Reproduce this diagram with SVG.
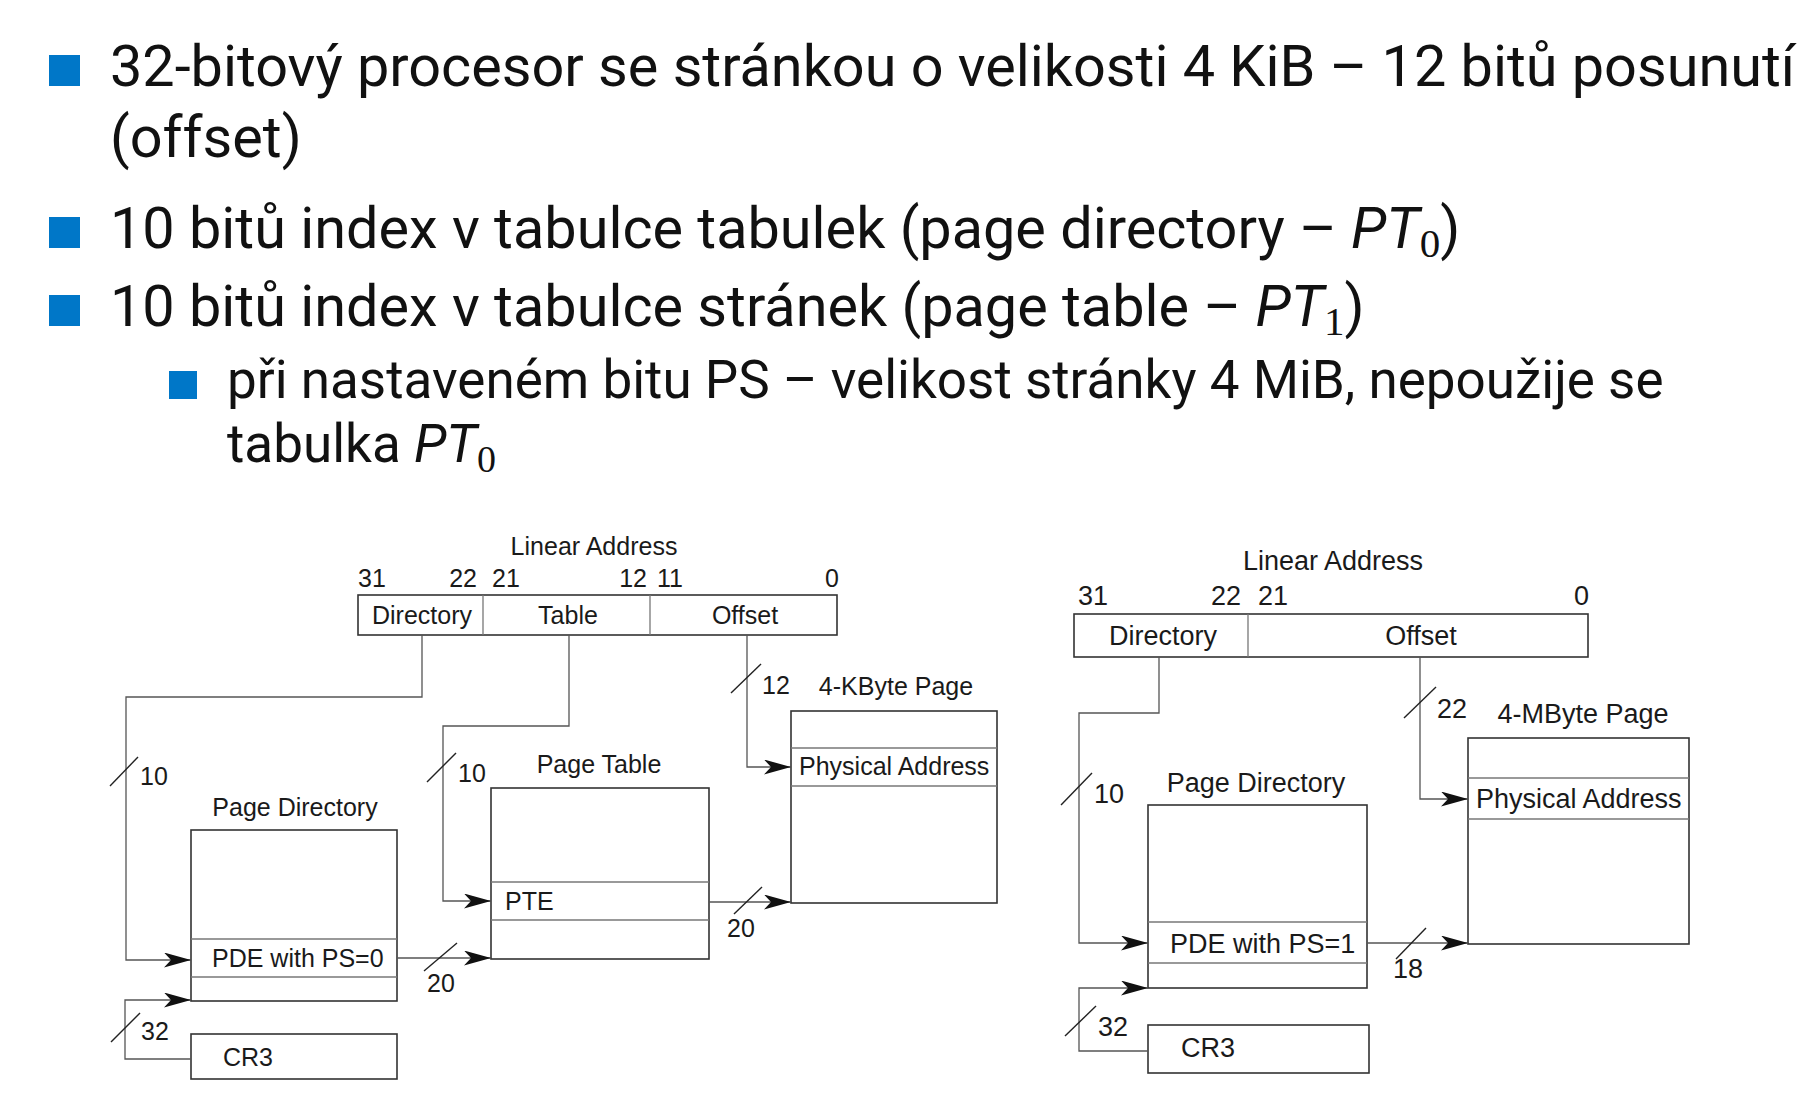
<svg xmlns="http://www.w3.org/2000/svg" width="1818" height="1104" viewBox="0 0 1818 1104">
  <style>
    .txt { font-family: Roboto, "Noto Sans", "Liberation Sans", sans-serif; fill: #111; }
    .big { font-size: 57.6px; }
    .sub { font-size: 53px; }
    .it { font-style: italic; }
    .idx { font-family: "Liberation Serif", "DejaVu Serif", serif; font-style: normal; }
    .bullet { fill: #0077c8; }
    .lbl { font-family: "Liberation Sans", Arial, sans-serif; fill: #1a1a1a; }
    .l25 { font-size: 25px; }
    .l27 { font-size: 27px; }
    .mid { text-anchor: middle; }
    .end { text-anchor: end; }
    .box { fill: none; stroke: #333; stroke-width: 1.6; }
    .row { fill: none; stroke: #777; stroke-width: 1.3; }
    .wire { fill: none; stroke: #555; stroke-width: 1.3; }
    .slash { stroke: #222; stroke-width: 1.4; }
  </style>
  <defs>
    <marker id="arrow" markerUnits="userSpaceOnUse" viewBox="0 0 27 15" refX="27" refY="7.5" markerWidth="27" markerHeight="15" orient="auto">
      <path d="M0,0 L27,7.5 L0,15 L7,7.5 Z" fill="#111"/>
    </marker>
  </defs>
  <rect width="1818" height="1104" fill="#fff"/>

  <!-- bullet list -->
  <g id="bullets">
    <rect class="bullet" x="49" y="55" width="31" height="31"/>
    <text class="txt big" x="110" y="86" textLength="1685" lengthAdjust="spacingAndGlyphs">32-bitový procesor se stránkou o velikosti 4 KiB – 12 bitů posunutí</text>
    <text class="txt big" x="110" y="157">(offset)</text>

    <rect class="bullet" x="49" y="217" width="31" height="31"/>
    <text class="txt big" x="110" y="248">10 bitů index v tabulce tabulek (page directory – <tspan class="it">PT</tspan><tspan class="idx" font-size="41" dy="9">0</tspan><tspan dy="-9">)</tspan></text>

    <rect class="bullet" x="49" y="295" width="31" height="31"/>
    <text class="txt big" x="110" y="326">10 bitů index v tabulce stránek (page table – <tspan class="it">PT</tspan><tspan class="idx" font-size="41" dy="9">1</tspan><tspan dy="-9">)</tspan></text>

    <rect class="bullet" x="169" y="371" width="28" height="28"/>
    <text class="txt sub" x="227" y="398">při nastaveném bitu PS – velikost stránky 4 MiB, nepoužije se</text>
    <text class="txt sub" x="227" y="462">tabulka <tspan class="it">PT</tspan><tspan class="idx" font-size="38" dy="10">0</tspan></text>
  </g>

  <!-- 4 KiB paging -->
  <g id="left-linear-address">
    <text class="lbl l25 mid" x="594" y="555">Linear Address</text>
    <text class="lbl l25" x="358" y="587">31</text>
    <text class="lbl l25 end" x="477" y="587">22</text>
    <text class="lbl l25" x="492" y="587">21</text>
    <text class="lbl l25 end" x="647" y="587">12</text>
    <text class="lbl l25" x="657" y="587">11</text>
    <text class="lbl l25 end" x="839" y="587">0</text>
    <rect class="box" x="358" y="595" width="479" height="40"/>
    <line class="row" x1="483" y1="595" x2="483" y2="635"/>
    <line class="row" x1="650" y1="595" x2="650" y2="635"/>
    <text class="lbl l25 mid" x="422" y="624">Directory</text>
    <text class="lbl l25 mid" x="568" y="624">Table</text>
    <text class="lbl l25 mid" x="745" y="624">Offset</text>
  </g>
  <g id="left-page-directory">
    <text class="lbl l25 mid" x="295" y="816">Page Directory</text>
    <rect class="box" x="191" y="830" width="206" height="171"/>
    <line class="row" x1="191" y1="939" x2="397" y2="939"/>
    <line class="row" x1="191" y1="977" x2="397" y2="977"/>
    <text class="lbl l25" x="212" y="967">PDE with PS=0</text>
  </g>
  <g id="left-cr3">
    <rect class="box" x="191" y="1034" width="206" height="45"/>
    <text class="lbl l25" x="223" y="1066">CR3</text>
  </g>
  <g id="left-page-table">
    <text class="lbl l25 mid" x="599" y="773">Page Table</text>
    <rect class="box" x="491" y="788" width="218" height="171"/>
    <line class="row" x1="491" y1="882" x2="709" y2="882"/>
    <line class="row" x1="491" y1="920" x2="709" y2="920"/>
    <text class="lbl l25" x="505" y="910">PTE</text>
  </g>
  <g id="left-4k-page">
    <text class="lbl l25 mid" x="896" y="695">4-KByte Page</text>
    <rect class="box" x="791" y="711" width="206" height="192"/>
    <line class="row" x1="791" y1="748" x2="997" y2="748"/>
    <line class="row" x1="791" y1="786" x2="997" y2="786"/>
    <text class="lbl l25" x="799" y="775">Physical Address</text>
  </g>

  <!-- 4 MiB paging -->
  <g id="right-linear-address">
    <text class="lbl l27 mid" x="1333" y="570">Linear Address</text>
    <text class="lbl l27" x="1078" y="605">31</text>
    <text class="lbl l27 end" x="1241" y="605">22</text>
    <text class="lbl l27" x="1258" y="605">21</text>
    <text class="lbl l27 end" x="1589" y="605">0</text>
    <rect class="box" x="1074" y="614" width="514" height="43"/>
    <line class="row" x1="1248" y1="614" x2="1248" y2="657"/>
    <text class="lbl l27 mid" x="1163" y="645">Directory</text>
    <text class="lbl l27 mid" x="1421" y="645">Offset</text>
  </g>
  <g id="right-page-directory">
    <text class="lbl l27 mid" x="1256" y="792">Page Directory</text>
    <rect class="box" x="1148" y="805" width="219" height="183"/>
    <line class="row" x1="1148" y1="922" x2="1367" y2="922"/>
    <line class="row" x1="1148" y1="963" x2="1367" y2="963"/>
    <text class="lbl l27" x="1170" y="953">PDE with PS=1</text>
  </g>
  <g id="right-cr3">
    <rect class="box" x="1148" y="1025" width="221" height="48"/>
    <text class="lbl l27" x="1181" y="1057">CR3</text>
  </g>
  <g id="right-4m-page">
    <text class="lbl l27 mid" x="1583" y="723">4-MByte Page</text>
    <rect class="box" x="1468" y="738" width="221" height="206"/>
    <line class="row" x1="1468" y1="778" x2="1689" y2="778"/>
    <line class="row" x1="1468" y1="819" x2="1689" y2="819"/>
    <text class="lbl l27" x="1476" y="808">Physical Address</text>
  </g>

  <!-- connectors with bus-width marks -->
  <g id="connectors">
    <path class="wire" d="M422,635 V697 H126 V960 H191" marker-end="url(#arrow)"/>
    <path class="wire" d="M569,635 V726 H443 V901 H491" marker-end="url(#arrow)"/>
    <path class="wire" d="M747,635 V767 H791" marker-end="url(#arrow)"/>
    <path class="wire" d="M397,958 H491" marker-end="url(#arrow)"/>
    <path class="wire" d="M709,902 H791" marker-end="url(#arrow)"/>
    <path class="wire" d="M191,1059 H125 V1000 H191" marker-end="url(#arrow)"/>

    <line class="slash" x1="110" y1="786" x2="138" y2="757"/>
    <text class="lbl l25" x="140" y="785">10</text>
    <line class="slash" x1="427" y1="782" x2="456" y2="753"/>
    <text class="lbl l25" x="458" y="782">10</text>
    <line class="slash" x1="731" y1="693" x2="761" y2="664"/>
    <text class="lbl l25" x="762" y="694">12</text>
    <line class="slash" x1="424" y1="971" x2="457" y2="943"/>
    <text class="lbl l25" x="427" y="992">20</text>
    <line class="slash" x1="734" y1="914" x2="762" y2="887"/>
    <text class="lbl l25" x="727" y="937">20</text>
    <line class="slash" x1="111" y1="1042" x2="140" y2="1013"/>
    <text class="lbl l25" x="141" y="1040">32</text>

    <path class="wire" d="M1159,657 V713 H1079 V943 H1148" marker-end="url(#arrow)"/>
    <path class="wire" d="M1420,657 V799 H1468" marker-end="url(#arrow)"/>
    <path class="wire" d="M1367,943 H1468" marker-end="url(#arrow)"/>
    <path class="wire" d="M1148,1051 H1079 V988 H1148" marker-end="url(#arrow)"/>

    <line class="slash" x1="1061" y1="805" x2="1092" y2="773"/>
    <text class="lbl l27" x="1094" y="803">10</text>
    <line class="slash" x1="1404" y1="718" x2="1436" y2="687"/>
    <text class="lbl l27" x="1437" y="718">22</text>
    <line class="slash" x1="1396" y1="959" x2="1426" y2="928"/>
    <text class="lbl l27" x="1393" y="978">18</text>
    <line class="slash" x1="1065" y1="1036" x2="1096" y2="1006"/>
    <text class="lbl l27" x="1098" y="1036">32</text>
  </g>
</svg>
